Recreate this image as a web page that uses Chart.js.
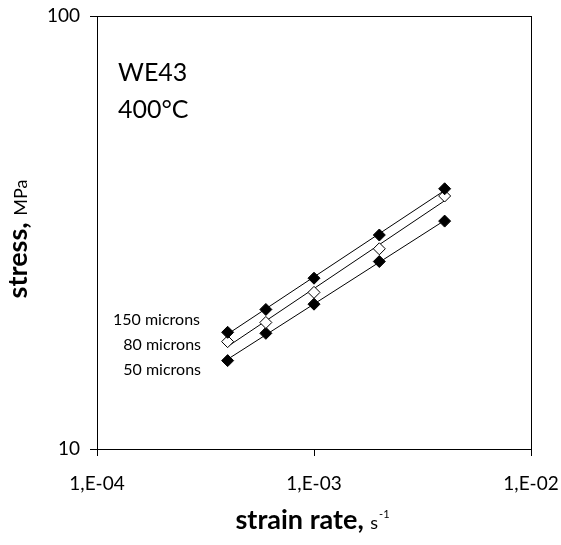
<!DOCTYPE html>
<html>
<head>
<script src="https://cdn.jsdelivr.net/npm/chart.js@4/dist/chart.umd.min.js"></script>
<style>
  html, body { margin: 0; padding: 0; background: #fff; }
  #wrap { width: 561px; height: 545px; }
</style>
<script>
  // strain rate, s^-1
  var strainRate = [4e-4, 6e-4, 1e-3, 2e-3, 4e-3];
  // stress, MPa
  var stress150 = [18.6, 21.0, 24.8, 31.2, 39.9];
  var stress80  = [17.7, 19.6, 23.0, 29.0, 38.4];
  var stress50  = [16.0, 18.5, 21.6, 27.1, 33.6];
  var xTicks = [1e-4, 1e-3, 1e-2];
  var yTicks = [10, 100];
  var seriesLabels = ['150 microns', '80 microns', '50 microns'];
</script>
</head>
<body>
<div id="wrap"><canvas id="myChart" width="561" height="545"></canvas></div>
<script>
  var FONT = 'Lato, "Open Sans", sans-serif';
  var pts = function (ys) { return strainRate.map(function (x, i) { return {x: x, y: ys[i]}; }); };

  // power-law trendline, like the spreadsheet did it
  var trend = function (ys) {
    var lx = strainRate.map(Math.log10), ly = ys.map(Math.log10), n = lx.length;
    var mx = lx.reduce((a, b) => a + b) / n, my = ly.reduce((a, b) => a + b) / n;
    var sxy = 0, sxx = 0;
    for (var i = 0; i < n; i++) { sxy += (lx[i] - mx) * (ly[i] - my); sxx += (lx[i] - mx) * (lx[i] - mx); }
    var b = sxy / sxx, a = my - b * mx;
    var x0 = strainRate[0], x1 = strainRate[n - 1];
    return [{x: x0, y: Math.pow(10, a + b * Math.log10(x0))}, {x: x1, y: Math.pow(10, a + b * Math.log10(x1))}];
  };

  var lineSet = function (ys) {
    return { data: trend(ys), showLine: true, borderColor: '#000', borderWidth: 1, pointRadius: 0, order: 2 };
  };
  var markSet = function (ys, fill) {
    return { data: pts(ys), showLine: false, pointStyle: 'rectRot', pointRadius: 6, pointHoverRadius: 6,
             backgroundColor: fill, borderColor: '#000', borderWidth: 1, order: 1 };
  };

  var fmtX = function (v) {
    var e = Math.round(Math.log10(v));
    var s = Math.abs(e) < 10 ? '0' + Math.abs(e) : '' + Math.abs(e);
    return '1,E' + (e < 0 ? '-' : '+') + s;
  };

  var extras = {
    id: 'extras',
    afterDraw: function (chart) {
      var c = chart.ctx, a = chart.chartArea;
      c.save();
      c.strokeStyle = '#000';
      c.lineWidth = 1;
      c.strokeRect(Math.round(a.left) + 0.5, Math.round(a.top) + 0.5, Math.round(a.right - a.left), Math.round(a.bottom - a.top));

      c.fillStyle = '#000';
      c.textBaseline = 'middle';
      c.font = '25px ' + FONT;
      c.textAlign = 'left';
      c.fillText('WE43', 118, 73);
      c.fillText('400°C', 118, 110);

      c.font = '16px ' + FONT;
      c.textAlign = 'right';
      c.fillText(seriesLabels[0], 200, 320);
      c.fillText(seriesLabels[1], 201, 345);
      c.fillText(seriesLabels[2], 201, 370);

      // x axis title
      c.textAlign = 'left';
      c.textBaseline = 'alphabetic';
      var t1 = 'strain rate, ', t2 = 's', t3 = '-1';
      c.font = 'bold 27px ' + FONT;
      var w1 = c.measureText(t1).width;
      c.font = '18px ' + FONT;
      var w2 = c.measureText(t2).width;
      c.font = '11px ' + FONT;
      var w3 = c.measureText(t3).width;
      var x = (a.left + a.right) / 2 - 2 - (w1 + w2 + w3) / 2, y = 529;
      c.font = 'bold 27px ' + FONT;
      c.fillText(t1, x, y);
      c.font = '18px ' + FONT;
      c.fillText(t2, x + w1, y);
      c.font = '11px ' + FONT;
      c.fillText(t3, x + w1 + w2 + 1, y - 11);

      // y axis title
      c.translate(27, 239);
      c.rotate(-Math.PI / 2);
      var u1 = 'stress, ', u2 = 'MPa';
      c.font = 'bold 27px ' + FONT;
      var v1 = c.measureText(u1).width;
      c.font = '18px ' + FONT;
      var v2 = c.measureText(u2).width;
      var sx = -(v1 + v2) / 2;
      c.font = 'bold 27px ' + FONT;
      c.fillText(u1, sx, 0);
      c.font = '18px ' + FONT;
      c.fillText(u2, sx + v1, 0);
      c.restore();
    }
  };

  var ctx = document.getElementById('myChart').getContext('2d');
  var myChart = new Chart(ctx, {
    type: 'scatter',
    data: {
      datasets: [
        lineSet(stress150), lineSet(stress80), lineSet(stress50),
        markSet(stress150, '#000'), markSet(stress80, '#fff'), markSet(stress50, '#000')
      ]
    },
    options: {
      responsive: false,
      animation: false,
      layout: { padding: { top: 16, right: 30, left: 0, bottom: 0 } },
      plugins: { legend: { display: false }, tooltip: { enabled: false } },
      scales: {
        x: {
          type: 'logarithmic', min: 1e-4, max: 1e-2,
          afterBuildTicks: function (s) { s.ticks = xTicks.map(function (v) { return {value: v}; }); },
          afterFit: function (s) { s.height = 96; s.paddingLeft = 0; s.paddingRight = 0; },
          grid: { drawOnChartArea: false, color: '#000', tickLength: 7, tickColor: '#000' },
          border: { color: '#000' },
          ticks: { color: '#000', padding: 16, maxRotation: 0, autoSkip: false,
                   font: { size: 19, family: FONT }, callback: fmtX }
        },
        y: {
          type: 'logarithmic', min: 10, max: 100,
          afterBuildTicks: function (s) { s.ticks = yTicks.map(function (v) { return {value: v}; }); },
          afterFit: function (s) { s.width = 97; s.paddingTop = 0; s.paddingBottom = 0; },
          grid: { drawOnChartArea: false, color: '#000', tickLength: 7, tickColor: '#000' },
          border: { color: '#000' },
          ticks: { color: '#000', padding: 10, autoSkip: false,
                   font: { size: 19, family: FONT },
                   callback: function (v) { return '' + v; } }
        }
      }
    },
    plugins: [extras]
  });
</script>
</body>
</html>
